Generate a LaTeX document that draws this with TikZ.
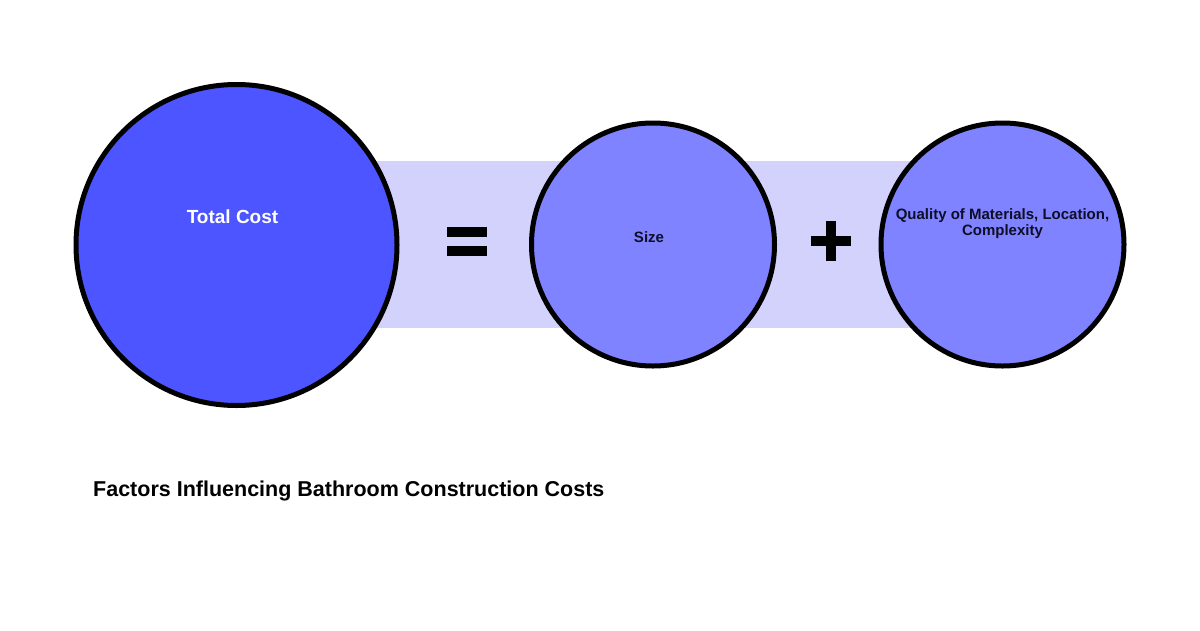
\documentclass[tikz,border=0pt]{standalone}
\usepackage{fontspec}
\setmainfont{Liberation Sans}
\usetikzlibrary{positioning}
\definecolor{totalblue}{RGB}{76,85,255}
\definecolor{factorblue}{RGB}{128,131,255}
\definecolor{bandblue}{RGB}{210,210,252}
\definecolor{navytext}{RGB}{14,14,40}

\begin{document}
\begin{tikzpicture}[x=1pt,y=-1pt,
    totalcirc/.style={circle, draw=black, line width=5pt, fill=totalblue, minimum size=321pt, inner sep=0pt},
    factorcirc/.style={circle, draw=black, line width=5pt, fill=factorblue, minimum size=243pt, inner sep=0pt},
    factorlbl/.style={font=\bfseries\fontsize{15}{16}\selectfont, text=navytext, align=center, inner sep=0pt}]
    \useasboundingbox (0,0) rectangle (1200,630);
    \fill[bandblue] (236,161) rectangle (1002,328);
    \node[totalcirc] (total) at (236.5,245) {};
    \node[factorcirc] (size) at (653,244.5) {};
    \node[factorcirc] (quality) at (1002.5,244.5) {};
    \node[font=\bfseries\fontsize{19}{21}\selectfont, text=white, inner sep=0pt] (totallbl) at ([xshift=-4pt,yshift=28pt]total.center) {Total Cost};
    \node[factorlbl] (sizelbl) at ([xshift=-4pt,yshift=7.5pt]size.center) {Size};
    \node[factorlbl] (qualitylbl) at ([yshift=20.5pt]quality.center) {Quality of Materials, Location,\\Complexity};
    \fill (447,227) rectangle (487,237);
    \fill (447,246) rectangle (487,256);
    \fill (811,236) rectangle (851,246);
    \fill (826,221) rectangle (836,261);
    \node[anchor=west, font=\bfseries\fontsize{21.5}{24}\selectfont, inner sep=0pt] (title) at (93,491) {Factors Influencing Bathroom Construction Costs};
\end{tikzpicture}
\end{document}
